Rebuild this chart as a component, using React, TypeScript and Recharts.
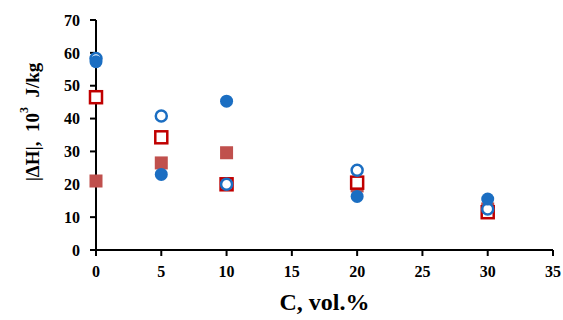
import { ScatterChart, Scatter, XAxis, YAxis } from "recharts"

const concentrations = [0, 5, 10, 20, 30]
const filledCircles = [57.3, 23, 45.3, 16.3, 15.5]
const openCircles = [58.3, 40.8, 20, 24.3, 12.5]
const openSquares = [46.5, 34.3, 20, 20.5, 11.5]
const filledSquares = [21, 26.5, 29.6, 19.5, 12.5]

const xTicks = [0, 5, 10, 15, 20, 25, 30, 35]
const yTicks = [0, 10, 20, 30, 40, 50, 60, 70]

const toPoints = (vals: number[]) => concentrations.map((c, i) => ({ c, h: vals[i] }))

const BLUE = "#1b6ec2"
const RED = "#c00000"
const RED_FILL = "#c0504d"
const FONT = "'Liberation Serif', 'Times New Roman', serif"

const FilledCircle = (p: any) => <circle cx={p.cx} cy={p.cy} r={6.5} fill={BLUE} />
const OpenCircle = (p: any) => (
  <circle cx={p.cx} cy={p.cy} r={5.5} fill="#fff" stroke={BLUE} strokeWidth={2.5} />
)
const OpenSquare = (p: any) => (
  <rect x={p.cx - 6} y={p.cy - 6} width={12} height={12} fill="#fff" stroke={RED} strokeWidth={2.5} />
)
const FilledSquare = (p: any) => (
  <rect x={p.cx - 6.5} y={p.cy - 6.5} width={13} height={13} fill={RED_FILL} />
)

const tickStyle = { fontSize: 16, fontWeight: "bold", fill: "#000", fontFamily: FONT }

export default function App() {
  return (
    <div style={{ position: "absolute", left: 0, top: 0, width: 563, height: 320, background: "#fff" }}>
      <ScatterChart width={563} height={320} margin={{ top: 20, right: 10, left: 0, bottom: 0 }}>
        <XAxis
          type="number"
          dataKey="c"
          domain={[0, 35]}
          ticks={xTicks}
          interval={0}
          height={70}
          stroke="#000"
          strokeWidth={2}
          tickSize={6}
          tickMargin={10}
          tick={tickStyle}
          label={{
            value: "C, vol.%",
            position: "insideBottom",
            offset: 10,
            style: { fontSize: 24, fontWeight: "bold", fill: "#000", fontFamily: FONT },
          }}
        />
        <YAxis
          type="number"
          dataKey="h"
          domain={[0, 70]}
          ticks={yTicks}
          interval={0}
          width={96}
          stroke="#000"
          strokeWidth={2}
          tickSize={6}
          tickMargin={10}
          tick={tickStyle}
          label={(props: any) => {
            const vb = props.viewBox
            const cx = 32
            const cy = vb.y + vb.height / 2 - 13
            return (
              <text
                transform={`rotate(-90, ${cx}, ${cy})`}
                x={cx}
                y={cy}
                textAnchor="middle"
                dominantBaseline="central"
                style={{ fontSize: 19, fontWeight: "bold", fill: "#000", fontFamily: FONT }}
              >
                <tspan>{"|ΔH|,\u00a0\u00a010"}</tspan>
                <tspan dy={-8} fontSize={12}>3</tspan>
                <tspan dy={8}>{"\u00a0\u00a0J/kg"}</tspan>
              </text>
            )
          }}
        />
        <Scatter data={toPoints(filledSquares)} shape={FilledSquare} isAnimationActive={false} />
        <Scatter data={toPoints(openSquares)} shape={OpenSquare} isAnimationActive={false} />
        <Scatter data={toPoints(openCircles)} shape={OpenCircle} isAnimationActive={false} />
        <Scatter data={toPoints(filledCircles)} shape={FilledCircle} isAnimationActive={false} />
      </ScatterChart>
    </div>
  )
}
